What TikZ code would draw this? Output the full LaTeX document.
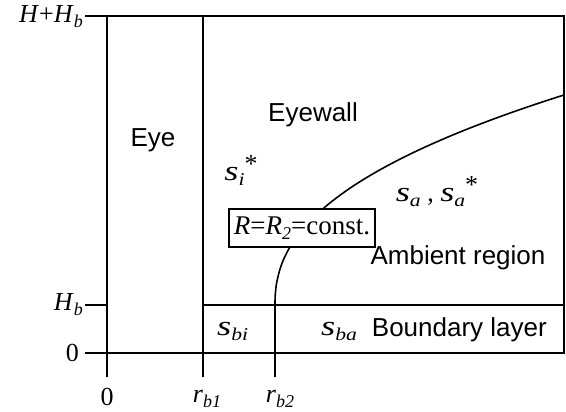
\documentclass[tikz,border=0pt]{standalone}
\usepackage{fontspec}
\usepackage{graphicx}
\setmainfont{Liberation Serif}
\setsansfont{Liberation Sans}
\newcommand{\sbs}[1]{\raisebox{-5pt}{\fontsize{18}{18}\selectfont\itshape #1}}
\newcommand{\ssb}[1]{\raisebox{-5pt}{\scalebox{1.2}[1]{\fontsize{18}{18}\selectfont\itshape #1}}}
\newcommand{\bigs}{\scalebox{1.3}[1]{\fontsize{28}{28}\selectfont\itshape s}}
\newcommand{\strs}{\raisebox{8pt}{\fontsize{26}{26}\selectfont *}}
\begin{document}
\begin{tikzpicture}[x=1pt,y=-1pt,
  ln/.style={line width=1.6pt},
  thk/.style={line width=2.8pt},
  sf/.style={font=\fontsize{26}{30}\selectfont\sffamily, inner sep=0pt},
  rm/.style={font=\fontsize{26}{30}\selectfont\rmfamily, inner sep=0pt}]
\useasboundingbox (0,0) rectangle (566,412);
% frame
\coordinate (TL) at (107,16);
\coordinate (BR) at (564,353);
\draw[ln] (TL) rectangle (BR);
% ticks left
\coordinate (t1) at (85,16);
\coordinate (t2) at (85,305);
\coordinate (t3) at (85,353);
\coordinate (t2e) at (107,305);
\coordinate (t3e) at (107,353);
\draw[ln] (t1) -- (TL);
\draw[ln] (t2) -- (t2e);
\draw[ln] (t3) -- (t3e);
% verticals
\coordinate (v0a) at (107,353);
\coordinate (v0b) at (107,377);
\coordinate (v1a) at (203,16);
\coordinate (v1b) at (203,377);
\coordinate (v2a) at (275,305);
\coordinate (v2b) at (275,377);
\draw[ln] (v0a) -- (v0b);
\draw[ln] (v1a) -- (v1b);
\draw[ln] (v2b) -- (v2a);
% boundary layer top
\coordinate (bl1) at (203,305);
\coordinate (bl2) at (564,305);
\draw[ln] (bl1) -- (bl2);
% thick segments
\coordinate (s1) at (158,16);
\coordinate (s2) at (191,16);
\coordinate (s3) at (158,353);
\coordinate (s4) at (191,353);
\draw[thk] (s1) -- (s2);
\draw[thk] (s3) -- (s4);
% curve R=R2
\draw[ln,line join=round] plot[domain=0:210,samples=80,smooth] ({275+289*pow(\x/210,2.3)},{305-\x});
% box label
\node[rm,font=\fontsize{27}{31}\selectfont\rmfamily,draw,line width=1.6pt,fill=white,inner xsep=2pt,inner ysep=3pt,minimum width=146pt,minimum height=38pt] (box) at (302,228) {\textit{R}=\textit{R}\sbs{2}=const.};
% axis labels
\node[rm,anchor=east] (lHH) at (83,17) {\textit{H}+\textit{H}\sbs{b}};
\node[rm,anchor=east] (lH) at (83,305) {\textit{H}\sbs{b}};
\node[rm,anchor=east] (l0) at (79,353) {0};
\node[rm] (b0) at (107,397) {0};
\node[rm] (b1) at (207,399) {\textit{r}\sbs{b1}};
\node[rm] (b2) at (280,399) {\textit{r}\sbs{b2}};
% region labels
\node[sf] (eye) at (153,140) {Eye};
\node[sf] (ew) at (313,115) {Eyewall};
\node[rm] (si) at (241,170) {\bigs\ssb{i}\strs};
\node[rm] (sa) at (437,192) {\bigs\ssb{a} , \bigs\ssb{a}\strs};
\node[sf] (amb) at (458,258) {Ambient region};
\node[rm,anchor=west] (sbi) at (217,331) {\bigs\ssb{bi}};
\node[rm,anchor=west] (sba) at (321,331) {\bigs\ssb{ba}};
\node[sf,anchor=east] (bl) at (547,330) {Boundary layer};
\end{tikzpicture}
\end{document}
